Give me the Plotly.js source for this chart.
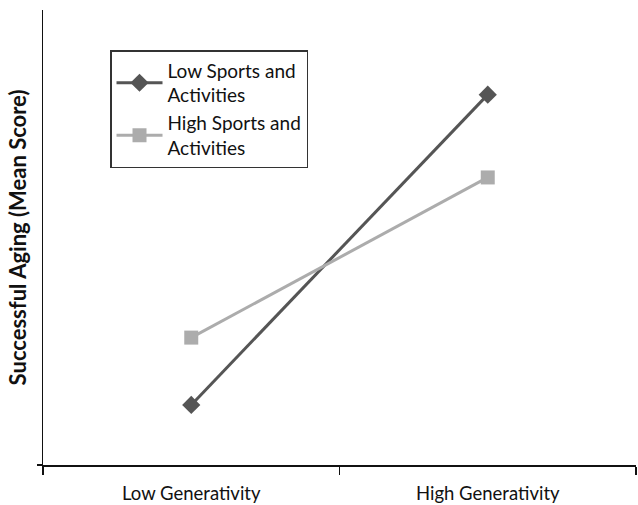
<!DOCTYPE html>
<html><head><meta charset="utf-8">
<script src="https://cdn.plot.ly/plotly-3.0.1.min.js"></script>
<style>html,body{margin:0;padding:0;background:#fff}</style>
</head><body>
<div id="chart" style="width:638px;height:505px"></div>
<script>
const categories = ["Low Generativity", "High Generativity"];
const lowSports = [0.66, 4.07];
const highSports = [1.40, 3.16];
const seriesNames = ["Low Sports and<br>Activities", "High Sports and<br>Activities"];
const yTitle = "Successful Aging (Mean Score)";

const font = "Lato, 'Open Sans', sans-serif";
const traces = [
  {x: categories, y: lowSports, name: seriesNames[0], type: "scatter", mode: "lines+markers",
   line: {color: "#555555", width: 3}, marker: {symbol: "diamond", size: 14, color: "#555555"}},
  {x: categories, y: highSports, name: seriesNames[1], type: "scatter", mode: "lines+markers",
   line: {color: "#acacac", width: 3}, marker: {symbol: "square", size: 14, color: "#acacac"}}
];
const layout = {
  width: 638, height: 505,
  margin: {l: 43, r: 2, t: 10, b: 40},
  paper_bgcolor: "#fff", plot_bgcolor: "#fff",
  font: {family: font, size: 18, color: "#111"},
  showlegend: true,
  legend: {x: 0.113, y: 0.912, xanchor: "left", yanchor: "top",
    bordercolor: "#333", borderwidth: 1.5, bgcolor: "#fff", itemwidth: 46,
    font: {family: font, size: 19, color: "#111"}, tracegroupgap: 5},
  xaxis: {type: "category", range: [-0.5, 1.5], showgrid: false, zeroline: false,
    showline: true, linecolor: "#111", linewidth: 1.5,
    ticks: "outside", tickson: "boundaries", ticklen: 8, tickcolor: "#111", tickwidth: 1.5,
    ticklabelstandoff: 11,
    tickfont: {family: font, size: 18.5, color: "#111"}},
  yaxis: {range: [0, 5], showgrid: false, zeroline: false, showline: true,
    linecolor: "#111", linewidth: 1.5, tickvals: [0], ticks: "outside", ticklen: 5,
    tickcolor: "#111", tickwidth: 1.5, showticklabels: false,
    title: {text: yTitle, standoff: 4, font: {family: font, size: 22, color: "#111", weight: "bold"}}}
};
Plotly.newPlot("chart", traces, layout, {staticPlot: true});
</script>
</body></html>
